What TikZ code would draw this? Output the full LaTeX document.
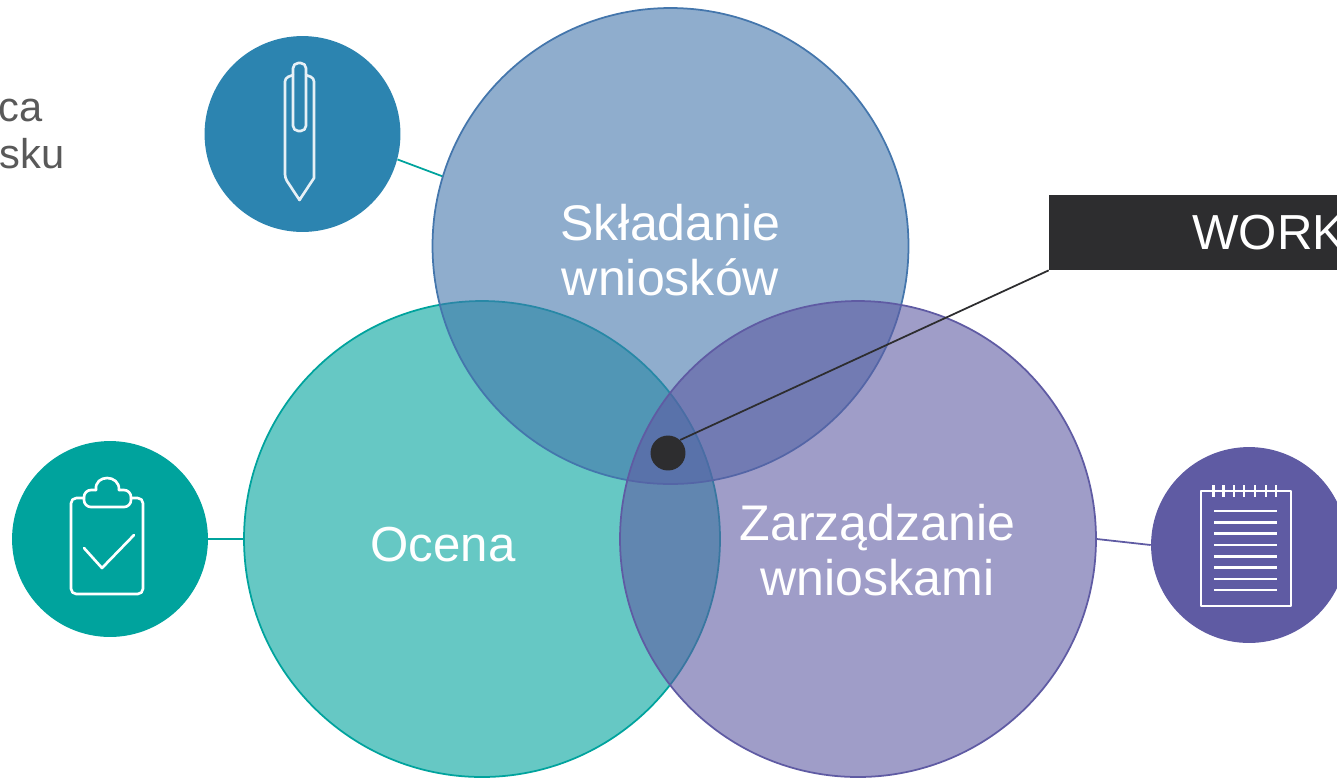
\documentclass[tikz,border=0pt]{standalone}
\usepackage{fontspec}
\setmainfont{Liberation Sans}
\definecolor{penblue}{HTML}{2C84B0}
\definecolor{clipteal}{HTML}{00A39D}
\definecolor{notepurple}{HTML}{5F5BA3}
\definecolor{topblue}{HTML}{4476AC}
\definecolor{darkbox}{HTML}{2D2D2F}
\definecolor{sidegray}{HTML}{595959}
\tikzset{
  bigcircle/.style={circle, draw=#1, fill=#1, fill opacity=0.6, line width=1pt, minimum size=270.9pt, inner sep=0pt},
  iconcircle/.style={circle, fill=#1, minimum size=111.5pt, inner sep=0pt},
  biglabel/.style={text=white, align=center, font=\fontsize{28.5}{31.7}\selectfont},
  sidelabel/.style={text=sidegray, font=\fontsize{23.7}{27}\selectfont},
  iconline/.style={draw=white, line width=1.5pt, line join=round, line cap=round}
}
\begin{document}
\begin{tikzpicture}[x=0.02cm, y=-0.02cm]
	  \useasboundingbox (0, 0) rectangle (1337, 779);
	  \clip (0, 0) rectangle (1337, 779);

	  \node[iconcircle=penblue] (pen) at (302.5, 134) {};
	  \node[iconcircle=clipteal] (clipboard) at (110, 539) {};
	  \node[iconcircle=notepurple] (notepad) at (1249, 545) {};

	  \node[bigcircle=clipteal] (ocena) at (482, 539) {};
	  \node[bigcircle=topblue] (skladanie) at (670.5, 246) {};
	  \node[bigcircle=notepurple] (zarzadzanie) at (858, 539) {};

	  \node[biglabel] (skladanielabel) at (670.5, 250) {Składanie\\wniosków};
	  \node[biglabel, font=\fontsize{28}{31.7}\selectfont] (ocenalabel) at (443, 545) {Ocena};
	  \node[biglabel] (zarzadzanielabel) at (877.5, 550) {Zarządzanie\\wnioskami};

	  \node[fill=darkbox, text=white, minimum width=250.4pt, minimum height=42.7pt, font=\fontsize{28}{31.7}\selectfont] (work) at (1269, 232.5) {WORK};
	  \node[circle, fill=darkbox, minimum size=19.9pt, inner sep=0pt] (dot) at (668, 453) {};
	  \node[sidelabel, anchor=base east, inner xsep=0pt] (catext) at (43, 121) {ca};
	  \node[sidelabel, anchor=base east, inner xsep=0pt] (skutext) at (65, 168) {sku};

	  \draw[clipteal, line width=1pt] (pen.-15.4) -- (skladanie.163.4);
	  \draw[clipteal, line width=1pt] (clipboard.east) -- (ocena.west);
	  \draw[notepurple, line width=1pt] (zarzadzanie.east) -- (notepad.west);
	  \draw[darkbox, line width=1pt] (dot.47) -- (work.south west);

	  \draw[iconline, draw=white!88!penblue, rounded corners=2pt] (293, 75) -- (285, 78) -- (285, 178) [sharp corners] -- (299.5, 200) -- (314, 178) [rounded corners=2pt] -- (314, 78) -- (306, 75);
	  \draw[iconline, draw=white!88!penblue, rounded corners=3pt] (293, 63) rectangle (306, 131);

	  \draw[iconline, rounded corners=3pt] (84, 498) -- (71, 498) -- (71, 594) -- (143, 594) -- (143, 498) -- (131, 498);
	  \draw[iconline, rounded corners=4pt] (96, 490) -- (84, 490) -- (84, 507) -- (131, 507) -- (131, 490) -- (119, 490);
	  \draw[iconline] (96, 490) .. controls (94, 474) and (120, 474) .. (119, 490);
	  \draw[iconline] (84, 548) -- (102, 568) -- (134, 535);

	  \draw[iconline, line cap=butt] (1201, 491) rectangle (1291, 606);
	  \foreach \x in {1213.5, 1223.5, 1234, 1244, 1255, 1266, 1276} {
	    \draw[iconline, line cap=butt] (\x, 485) -- (\x, 497);
	  }
	  \foreach \y in {511, 522.3, 533.6, 544.9, 556.2, 567.5, 578.8, 590} {
	    \draw[iconline, line cap=butt] (1214, \y) -- (1277, \y);
	  }
\end{tikzpicture}
\end{document}
